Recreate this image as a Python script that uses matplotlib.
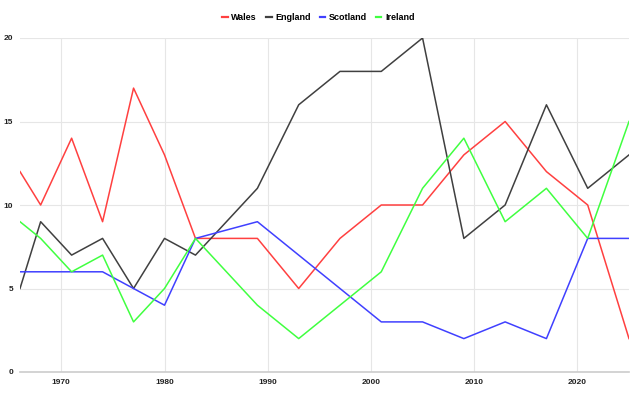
import matplotlib
matplotlib.use("Agg")
import matplotlib.pyplot as plt

plt.rcParams['font.family'] = ['Liberation Sans', 'DejaVu Sans']

# British & Irish Lions tour years
years = [1966, 1968, 1971, 1974, 1977, 1980, 1983, 1989, 1993, 1997,
         2001, 2005, 2009, 2013, 2017, 2021, 2025]

wales = [12, 10, 14, 9, 17, 13, 8, 8, 5, 8, 10, 10, 13, 15, 12, 10, 2]
england = [5, 9, 7, 8, 5, 8, 7, 11, 16, 18, 18, 20, 8, 10, 16, 11, 13]
scotland = [6, 6, 6, 6, 5, 4, 8, 9, 7, 5, 3, 3, 2, 3, 2, 8, 8]
ireland = [9, 8, 6, 7, 3, 5, 8, 4, 2, 4, 6, 11, 14, 9, 11, 8, 15]

series = [("Wales", wales, "#ff4040"),
          ("England", england, "#404040"),
          ("Scotland", scotland, "#4040ff"),
          ("Ireland", ireland, "#40ff40")]

fig = plt.figure(figsize=(6.3, 3.98), dpi=100)
ax = fig.add_axes([20 / 630, 26 / 398, 609 / 630, 334 / 398])

for name, vals, col in series:
    ax.plot(years, vals, color=col, lw=1.1, label=name)

ax.set_xlim(1966, 2025)
ax.set_ylim(0, 20)
ax.set_xticks([1970, 1980, 1990, 2000, 2010, 2020])
ax.set_yticks([0, 5, 10, 15, 20])
ax.grid(True, color="#e6e6e6", lw=0.8)
ax.set_axisbelow(True)
for s in ["top", "right", "left"]:
    ax.spines[s].set_visible(False)
ax.spines["bottom"].set_color("#cccccc")
ax.spines["bottom"].set_linewidth(1.2)
ax.tick_params(length=0, labelsize=6, pad=5, colors="#222222")
for lab in ax.get_xticklabels() + ax.get_yticklabels():
    lab.set_fontweight("bold")

leg = ax.legend(loc="upper center", bbox_to_anchor=(0.49, 1.1), ncol=4,
                frameon=False, handlelength=0.6, handletextpad=0.4,
                columnspacing=1.0, prop={"weight": "bold", "size": 6.5})
for h in leg.get_lines():
    h.set_linewidth(1.6)

fig.savefig("out.png", dpi=100)
